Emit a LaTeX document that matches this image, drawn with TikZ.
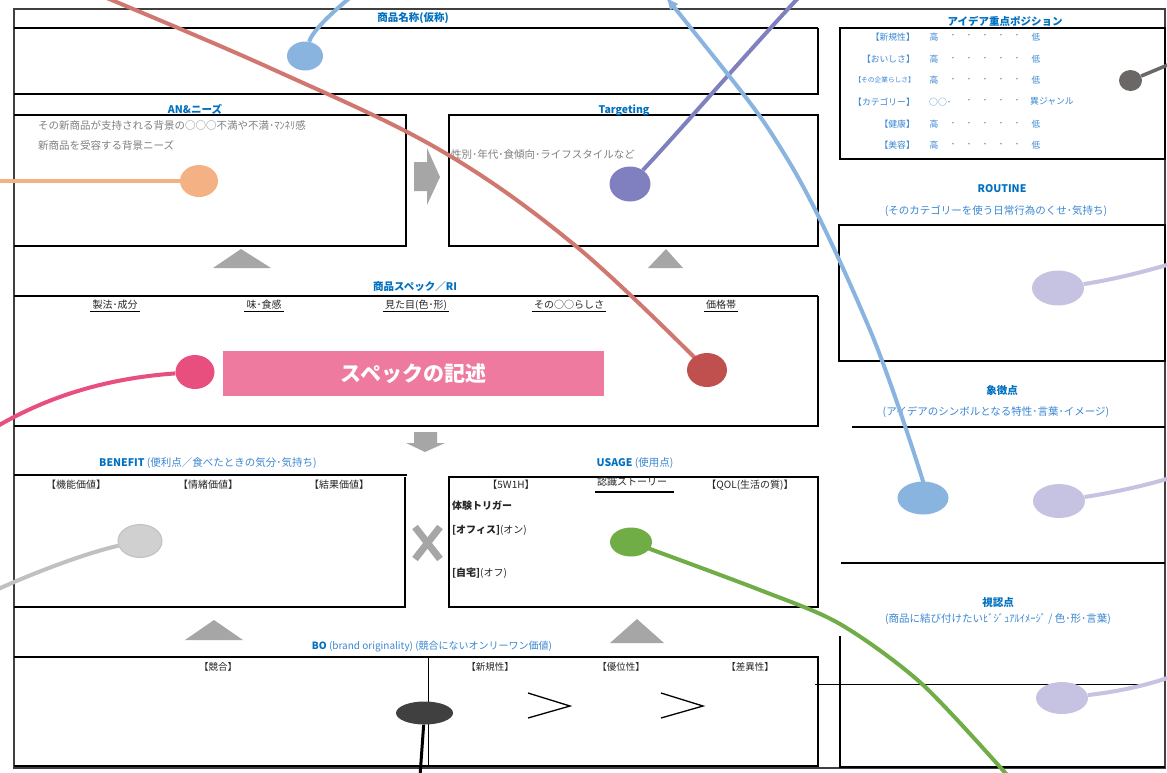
\documentclass[tikz,border=0pt]{standalone}
\usepackage{fontspec}
\setmainfont{Noto Sans CJK JP}
\usetikzlibrary{shapes.geometric,arrows.meta}
\pgfdeclarelayer{curves}
\pgfdeclarelayer{dots}
\pgfsetlayers{main,curves,dots}
\definecolor{tblue}{HTML}{0070C0}
\definecolor{sblue}{HTML}{3A87D2}
\definecolor{descgray}{HTML}{808080}
\definecolor{txt}{HTML}{262626}
\definecolor{framegray}{HTML}{404040}
\definecolor{arrgray}{HTML}{A6A6A6}
\definecolor{pinkbox}{HTML}{EE7A9F}
\definecolor{lblueC}{HTML}{8AB4E0}
\definecolor{orangeC}{HTML}{F4B183}
\definecolor{purpleC}{HTML}{8080C0}
\definecolor{pinkC}{HTML}{E84F7F}
\definecolor{redL}{HTML}{D0776F}
\definecolor{redC}{HTML}{C0504D}
\definecolor{grayL}{HTML}{C0C0C0}
\definecolor{grayC}{HTML}{D0D0D0}
\definecolor{greenC}{HTML}{70AD47}
\definecolor{lavC}{HTML}{C6C3E2}
\definecolor{dgrayC}{HTML}{6B6767}
\definecolor{blackC}{HTML}{404040}
\tikzset{
  outerfr/.style={draw=framegray, line width=2.5pt},
  boxln/.style={draw=black, line width=1.4pt},
  thickln/.style={draw=black, line width=2.5pt},
  ttl/.style={font=\bfseries\fontsize{10.5}{12}\selectfont, text=tblue, inner sep=0pt},
  subt/.style={font=\fontsize{10.5}{12}\selectfont, text=sblue, inner sep=0pt},
  desc/.style={font=\fontsize{10.5}{12}\selectfont, text=descgray, inner sep=0pt, anchor=west},
  lbl/.style={font=\fontsize{10}{12}\selectfont, text=txt, inner sep=0pt},
  bolbl/.style={font=\fontsize{9.5}{11}\selectfont, text=txt, inner sep=0pt},
  rowt/.style={font=\fontsize{8.8}{10}\selectfont, text=sblue, inner sep=0pt},
  garrow/.style={fill=arrgray, draw=none},
  blob/.style={ellipse, inner sep=0pt, draw=none},
  cline/.style={line width=4pt},
  uline/.style={draw=black, line width=1pt},
}
\begin{document}
\begin{tikzpicture}[x=1pt,y=-1pt]
\useasboundingbox (0,0) rectangle (1167,772);
\fill[white] (0,0) rectangle (1167,772);

% ---------- frames and boxes ----------
\draw[outerfr] (14,9) -- (1165,9) -- (1165,768) -- (14,768) -- cycle;
% product name
\draw[thickln] (14,28) -- (818,28);
\draw[boxln] (818,28) -- (818,94) -- (14,94);
% AN
\draw[boxln] (14,115) -- (406,115) -- (406,246) -- (14,246);
% Targeting
\draw[boxln] (449,115) rectangle (818,246);
% Spec
\draw[thickln] (14,296) -- (818,296);
\draw[boxln] (818,296) -- (818,426) -- (14,426);
% Benefit
\draw[boxln] (14,475) -- (407,475);
\draw[boxln] (405,477) -- (405,607) -- (14,607);
% Usage
\draw[boxln] (449,477) rectangle (818,607);
\draw[thickln] (449,477) -- (818,477);
% BO
\draw[boxln] (14,657) -- (818,657) -- (818,766) -- (14,766);
\draw[line width=0.8pt] (428,657) -- (428,766);
% right panel
\draw[boxln] (840,28) rectangle (1165,159);
\draw[boxln] (839,225) rectangle (1165,361);
\draw[boxln] (852,427) -- (1165,427);
\draw[boxln] (841,563) -- (1165,563);
\draw[boxln] (840,636) -- (840,767) -- (1165,767);
\draw[line width=0.9pt] (815,684) -- (1141,684);

% ---------- gray arrows ----------
\fill[garrow] (414,162) -- (427,162) -- (427,148) -- (440,177) -- (427,205) -- (427,191) -- (414,191) -- cycle;
\fill[garrow] (414,432) -- (437,432) -- (437,443) -- (445,443) -- (425,452) -- (406,443) -- (414,443) -- cycle;
\fill[garrow] (213,268) -- (241,249) -- (271,268) -- cycle;
\fill[garrow] (648,268) -- (666,249) -- (683,268) -- cycle;
\fill[garrow] (185,640) -- (214,620) -- (243,640) -- cycle;
\fill[garrow] (610,643) -- (637,619) -- (664,643) -- cycle;
\draw[arrgray, line width=7pt] (415,527) -- (440,559);
\draw[arrgray, line width=7pt] (440,527) -- (415,559);
% > symbols
\draw[line width=1.3pt] (528,693) -- (570,706) -- (528,718);
\draw[line width=1.3pt] (661,693) -- (703,706) -- (661,718);

% ---------- texts ----------
\node[ttl] (tName) at (413,18) {商品名称(仮称)};
\node[ttl] (tAN) at (195,109) {AN\&ニーズ};
\node[ttl] (tTg) at (624,110) {Targeting};
\node[desc] (tAN1) at (38,125) {その新商品が支持される背景の○○○不満や不満･ﾏﾝﾈﾘ感};
\node[desc] (tAN2) at (38,145) {新商品を受容する背景ニーズ};
\node[desc] (tTg1) at (451,155) {性別･年代･食傾向･ライフスタイルなど};
\node[ttl] (tSpec) at (415,287) {商品スペック／RI};
\node[lbl, inner xsep=2pt, inner ysep=1.5pt] (h1) at (115,305) {製法･成分};
\node[lbl, inner xsep=2pt, inner ysep=1.5pt] (h2) at (264,305) {味･食感};
\node[lbl, inner xsep=2pt, inner ysep=1.5pt] (h3) at (416,305) {見た目(色･形)};
\node[lbl, inner xsep=2pt, inner ysep=1.5pt] (h4) at (569,305) {その○○らしさ};
\node[lbl, inner xsep=2pt, inner ysep=1.5pt] (h5) at (721,305) {価格帯};
\foreach \h in {h1,h2,h3,h4,h5} \draw[uline] (\h.south west) -- (\h.south east);
\node[fill=pinkbox, minimum width=381pt, minimum height=45pt, inner sep=0pt,
      font=\bfseries\fontsize{21}{24}\selectfont, text=white] (specbox) at (413.5,373.5) {スペックの記述};

\node[ttl] (tBen) at (208,463) {BENEFIT \textcolor{sblue}{\mdseries (便利点／食べたときの気分･気持ち)}};
\node[lbl] (b1) at (76,485) {【機能価値】};
\node[lbl] (b2) at (208,485) {【情緒価値】};
\node[lbl] (b3) at (339,485) {【結果価値】};

\node[ttl] (tUse) at (635,463) {USAGE \textcolor{sblue}{\mdseries (使用点)}};
\node[lbl] (u1) at (511,485) {【5W1H】};
\node[lbl] (u2) at (632,482) {認識ストーリー};
\draw[line width=2pt] (595,492) -- (674,492);
\node[lbl] (u3) at (750,485) {【QOL(生活の質)】};
\node[lbl, anchor=west, font=\bfseries\fontsize{10}{12}\selectfont] (u4) at (452,506) {体験トリガー};
\node[lbl, anchor=west] (u5) at (452,530) {\textbf{[オフィス]}(オン)};
\node[lbl, anchor=west] (u6) at (452,573) {\textbf{[自宅]}(オフ)};

\node[ttl, font=\bfseries\fontsize{10}{12}\selectfont] (tBO) at (432,647) {BO \textcolor{sblue}{\mdseries (brand originality) (競合にないオンリーワン価値)}};
\node[bolbl] (o1) at (218,667) {【競合】};
\node[bolbl] (o2) at (490,667) {【新規性】};
\node[bolbl] (o3) at (621,667) {【優位性】};
\node[bolbl] (o4) at (750,667) {【差異性】};

% right panel texts
\node[ttl] (tIdea) at (1005,21) {アイデア重点ポジション};
\foreach \yy/\lab/\n in {36.7/新規性/1, 59/おいしさ/2, 124/健康/5, 145/美容/6} {
  \node[rowt, anchor=east] (rl\n) at (915,\yy) {【\lab】};
  \node[rowt] (rh\n) at (934,\yy) {高};
  \foreach \xx/\k in {953/1,969/2,985/3,1001/4,1017/5}
    \node[rowt] (rd\n\k) at (\xx,\yy) {･};
  \node[rowt] (rlo\n) at (1036,\yy) {低};
}
\node[rowt, anchor=east, font=\fontsize{6.7}{8}\selectfont] (rl3) at (915,80) {【その企業らしさ】};
\node[rowt] (rh3) at (934,80) {高};
\foreach \xx/\k in {953/1,969/2,985/3,1001/4,1017/5}
  \node[rowt] (rd3\k) at (\xx,80) {･};
\node[rowt] (rlo3) at (1036,80) {低};
\node[rowt, anchor=east] (rl4) at (915,101.7) {【カテゴリー】};
\node[rowt, anchor=west] (rc4) at (929,101.7) {○○･};
\foreach \xx/\k in {969/2,985/3,1001/4,1017/5}
  \node[rowt] (rd4\k) at (\xx,101.7) {･};
\node[rowt, anchor=west] (rlo4) at (1030,101.7) {異ジャンル};

\node[ttl] (tRt) at (1002,189) {ROUTINE};
\node[subt] (tRt2) at (996,211) {(そのカテゴリーを使う日常行為のくせ･気持ち)};
\node[ttl] (tSym) at (1002,391) {象徴点};
\node[subt] (tSym2) at (996,412) {(アイデアのシンボルとなる特性･言葉･イメージ)};
\node[ttl] (tVis) at (998,603) {視認点};
\node[subt] (tVis2) at (998,619) {(商品に結び付けたいﾋﾞｼﾞｭｱﾙｲﾒｰｼﾞ / 色･形･言葉)};

% ---------- dots ----------
\begin{pgfonlayer}{dots}
\node[blob, fill=lblueC, minimum width=36pt, minimum height=29pt] (dB1) at (305,56) {};
\node[blob, fill=orangeC, minimum width=38pt, minimum height=32pt] (dO) at (199,181) {};
\node[blob, fill=purpleC, minimum width=41pt, minimum height=35pt] (dP) at (630,184) {};
\node[blob, fill=pinkC, minimum width=39pt, minimum height=34pt] (dK) at (195,372) {};
\node[blob, fill=redC, minimum width=40pt, minimum height=34pt] (dR) at (707,370) {};
\node[blob, fill=grayC, draw=grayL, line width=1pt, minimum width=44pt, minimum height=33pt] (dG) at (140,541) {};
\node[blob, fill=greenC, minimum width=42pt, minimum height=29pt] (dGr) at (631,542) {};
\node[blob, fill=lblueC, minimum width=51pt, minimum height=33pt] (dB2) at (923,498) {};
\node[blob, fill=lavC, minimum width=52pt, minimum height=35pt] (dL1) at (1058,288) {};
\node[blob, fill=lavC, minimum width=52pt, minimum height=34pt] (dL2) at (1059,501) {};
\node[blob, fill=lavC, minimum width=52pt, minimum height=32pt] (dL3) at (1062,698) {};
\node[blob, fill=dgrayC, minimum width=23pt, minimum height=21pt] (dD) at (1130.5,80.5) {};
\node[blob, fill=blackC, minimum width=57pt, minimum height=23pt] (dBk) at (424.5,713) {};
\end{pgfonlayer}

% ---------- curves ----------
\begin{pgfonlayer}{curves}
\coordinate (b1s) at (352,-4);
\draw[cline, lblueC] (b1s) .. controls (330,14) and (312,32) .. (dB1);
\coordinate (os) at (-4,181);
\draw[cline, orangeC] (os) -- (dO);
\coordinate (ps) at (800,-4);
\draw[cline, purpleC] (ps) .. controls (745,55) and (685,125) .. (dP);
\coordinate (rs) at (102,-4);
\draw[cline, redL] plot[smooth, tension=0.6] coordinates {(rs) (270,68) (440,150) (577,247) (dR)};
\coordinate (b2s) at (666,-3);
\draw[cline, lblueC, {Latex[length=13pt,width=11pt]}-] plot[smooth] coordinates {(b2s) (788,160) (870,330) (922,478) (dB2)};
\coordinate (ge) at (1008,776);
\draw[cline, greenC] plot[smooth] coordinates {(dGr) (760,590) (840,624) (922,684) (ge)};
\coordinate (ks) at (-4,427);
\draw[cline, pinkC] (ks) .. controls (50,395) and (110,378) .. (dK);
\coordinate (gs) at (-4,590);
\draw[cline, grayL] (gs) .. controls (40,570) and (90,552) .. (dG);
\coordinate (l1e) at (1170,264);
\draw[cline, lavC] (dL1) .. controls (1110,280) and (1140,273) .. (l1e);
\coordinate (l2e) at (1170,478);
\draw[cline, lavC] (dL2) .. controls (1110,493) and (1140,487) .. (l2e);
\coordinate (l3e) at (1170,677);
\draw[cline, lavC] (dL3) .. controls (1115,692) and (1145,686) .. (l3e);
\coordinate (de) at (1170,64);
\draw[line width=3.5pt, dgrayC] (dD) -- (de);
\coordinate (bke) at (420,776);
\draw[line width=3pt, black] (dBk) -- (bke);
\end{pgfonlayer}
\end{tikzpicture}
\end{document}
